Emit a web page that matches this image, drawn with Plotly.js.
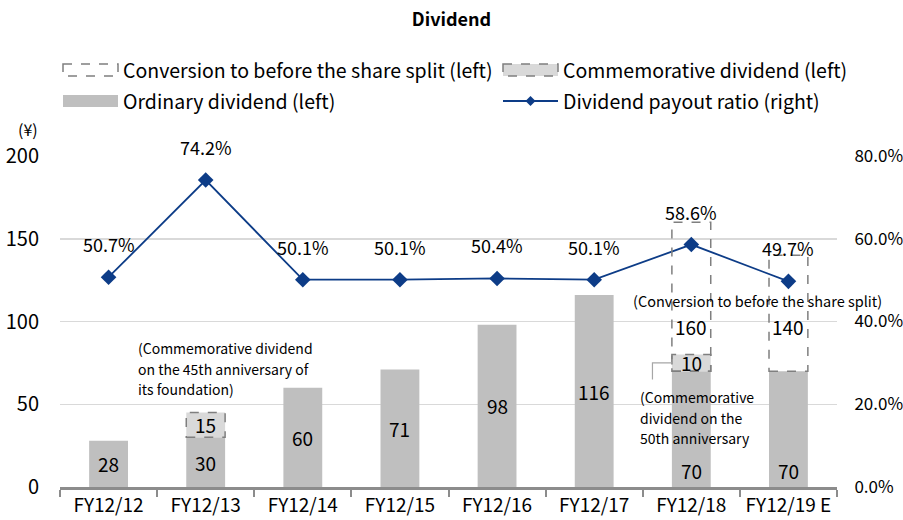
<!DOCTYPE html>
<html><head><meta charset="utf-8">
<script src="https://cdn.plot.ly/plotly-3.0.1.min.js"></script>
<style>html,body{margin:0;padding:0;background:#fff}#chart{width:903px;height:520px}</style>
</head><body><div id="chart"></div>
<script>
const categories = ['FY12/12','FY12/13','FY12/14','FY12/15','FY12/16','FY12/17','FY12/18','FY12/19 E'];
const ordinary = [28, 30, 60, 71, 98, 116, 70, 70];
const commemorative = [null, 15, null, null, null, null, 10, null];
const convertedTotal = [null, null, null, null, null, null, 160, 140];
const payoutRatio = [50.7, 74.2, 50.1, 50.1, 50.4, 50.1, 58.6, 49.7];

const FONT = '"Noto Sans CJK JP", "Noto Sans", sans-serif';
const W = 903, H = 520, L = 60, R = 66, T = 156, B = 33;
const PW = W - L - R, PH = H - T - B;
const px = x => (x - L) / PW;
const py = y => (H - B - y) / PH;
const HALF = 0.2;

const convSeg = convertedTotal.map((t, i) => t == null ? null : t - ordinary[i]);

const traces = [
  {type:'bar', x:categories, y:ordinary, width:0.4, marker:{color:'#bfbfbf'}, hoverinfo:'skip', showlegend:false},
  {type:'bar', x:categories, y:commemorative, base:ordinary, width:0.4, marker:{color:'#d9d9d9'}, hoverinfo:'skip', showlegend:false},
  {type:'bar', x:categories, y:convSeg, base:ordinary, width:0.4, marker:{color:'rgba(0,0,0,0)'}, hoverinfo:'skip', showlegend:false},
  {type:'scatter', x:categories, y:payoutRatio, yaxis:'y2', mode:'lines+markers',
   line:{color:'#0d3c87', width:1.8}, marker:{symbol:'diamond', size:12, color:'#0d3c87'}, showlegend:false, cliponaxis:false}
];

const shapes = [];
const annotations = [];
const DASH = {color:'#7f7f7f', width:1.5, dash:'dash'};
const valFont = {size:19, color:'#000', family:FONT};

categories.forEach((c, i) => {
  if (commemorative[i] != null) {
    shapes.push({type:'rect', xref:'x', yref:'y', x0:i-HALF, x1:i+HALF, y0:ordinary[i], y1:ordinary[i]+commemorative[i], line:DASH});
    annotations.push({xref:'x', yref:'y', x:c, y:ordinary[i]+commemorative[i]/2, text:String(commemorative[i]), showarrow:false, font:valFont});
  }
  if (convertedTotal[i] != null) {
    shapes.push({type:'rect', xref:'x', yref:'y', x0:i-HALF, x1:i+HALF, y0:ordinary[i], y1:convertedTotal[i], line:DASH});
    annotations.push({xref:'x', yref:'y', x:c, y:97, text:String(convertedTotal[i]), showarrow:false, font:valFont});
  }
  const ly = convertedTotal[i] != null ? 10 : ordinary[i]/2;
  annotations.push({xref:'x', yref:'y', x:c, y:ly, text:String(ordinary[i]), showarrow:false, font:valFont});
  annotations.push({xref:'x', yref:'y2', x:c, y:payoutRatio[i], yshift:33, text:payoutRatio[i].toFixed(1)+'%', showarrow:false, font:{size:18, color:'#000', family:FONT}});
});

// callout for 50th anniversary commemorative dividend
const ci = 6;
shapes.push({type:'path', xref:'x', yref:'y', path:`M ${ci-HALF} ${ordinary[ci]+commemorative[ci]/2} L ${ci-0.4} ${ordinary[ci]+commemorative[ci]/2} L ${ci-0.4} ${ordinary[ci]-5}`, line:{color:'#a6a6a6', width:1.2}});

// text notes, one annotation per line
const noteFont = {size:14, color:'#000', family:FONT};
function note(lines, x, yTop, step, font) {
  lines.forEach((t, k) => annotations.push({xref:'paper', yref:'paper', x:px(x), y:py(yTop + k*step), xanchor:'left', yanchor:'middle', align:'left', showarrow:false, text:t, font:font}));
}
note(['(Commemorative dividend', 'on the 45th anniversary of', 'its foundation)'], 136, 348, 20.5, noteFont);
note(['(Conversion to before the share split)'], 631, 300, 0, {size:14.5, color:'#000', family:FONT});
note(['(Commemorative', 'dividend on the', '50th anniversary'], 638, 397, 20.5, noteFont);
annotations.push({xref:'paper', yref:'paper', x:px(28), y:py(129), xanchor:'center', yanchor:'middle', showarrow:false,
  text:'(¥)', font:{size:16, color:'#000', family:FONT}});

// custom legend
const legFont = {size:19.5, color:'#000', family:FONT};
const legendItems = [
  {x:63, y:70, kind:'conv', text:'Conversion to before the share split (left)'},
  {x:503, y:70, kind:'comm', text:'Commemorative dividend (left)'},
  {x:63, y:101, kind:'ord', text:'Ordinary dividend (left)'},
  {x:503, y:101, kind:'line', text:'Dividend payout ratio (right)'}
];
legendItems.forEach(it => {
  const x0 = it.x, x1 = it.x + 55;
  if (it.kind === 'line') {
    shapes.push({type:'line', xref:'paper', yref:'paper', x0:px(x0), x1:px(x1), y0:py(it.y), y1:py(it.y), line:{color:'#0d3c87', width:1.8}});
    const cx = (x0+x1)/2;
    shapes.push({type:'path', xref:'paper', yref:'paper', path:`M ${px(cx-5)} ${py(it.y)} L ${px(cx)} ${py(it.y-5)} L ${px(cx+5)} ${py(it.y)} L ${px(cx)} ${py(it.y+5)} Z`, fillcolor:'#0d3c87', line:{width:0}});
  } else {
    const fill = it.kind === 'ord' ? '#bfbfbf' : (it.kind === 'comm' ? '#d9d9d9' : 'rgba(0,0,0,0)');
    const line = it.kind === 'ord' ? {width:0} : DASH;
    shapes.push({type:'rect', xref:'paper', yref:'paper', x0:px(x0), x1:px(x1), y0:py(it.y-6), y1:py(it.y+6), fillcolor:fill, line:line});
  }
  annotations.push({xref:'paper', yref:'paper', x:px(x1+3), y:py(it.y), xanchor:'left', yanchor:'middle', showarrow:false, text:it.text, font:legFont});
});

const layout = {
  width:W, height:H, margin:{l:L, r:R, t:T, b:B},
  paper_bgcolor:'#fff', plot_bgcolor:'#fff',
  font:{family:FONT, color:'#000'},
  title:{text:'<b>Dividend</b>', font:{size:18, family:FONT, color:'#000'}, x:0.5, xref:'container', y:1-20/H, yref:'container', yanchor:'middle'},
  barmode:'overlay', showlegend:false,
  xaxis:{type:'category', range:[-0.5, 7.5], showline:true, linecolor:'#8c8c8c', linewidth:2.5, ticks:'outside', tickson:'boundaries',
         ticklen:7, tickwidth:2, tickcolor:'#8c8c8c', showgrid:false, tickangle:0, tickfont:{size:19, color:'#000', family:FONT}, fixedrange:true},
  yaxis:{range:[0,200], dtick:50, showgrid:true, gridcolor:'#d9d9d9', gridwidth:1.5, zeroline:false, showline:false,
         ticks:'outside', ticklen:16, tickcolor:'rgba(0,0,0,0)', tickfont:{size:20, color:'#000', family:FONT}, fixedrange:true},
  yaxis2:{range:[0,80], dtick:20, tickformat:'.1f', ticksuffix:'%', overlaying:'y', side:'right', showgrid:false, zeroline:false, showline:false,
          ticks:'outside', ticklen:13, tickcolor:'rgba(0,0,0,0)', tickfont:{size:17, color:'#000', family:FONT}, fixedrange:true},
  shapes:shapes, annotations:annotations
};

Plotly.newPlot('chart', traces, layout, {displayModeBar:false, staticPlot:true});
</script></body></html>
